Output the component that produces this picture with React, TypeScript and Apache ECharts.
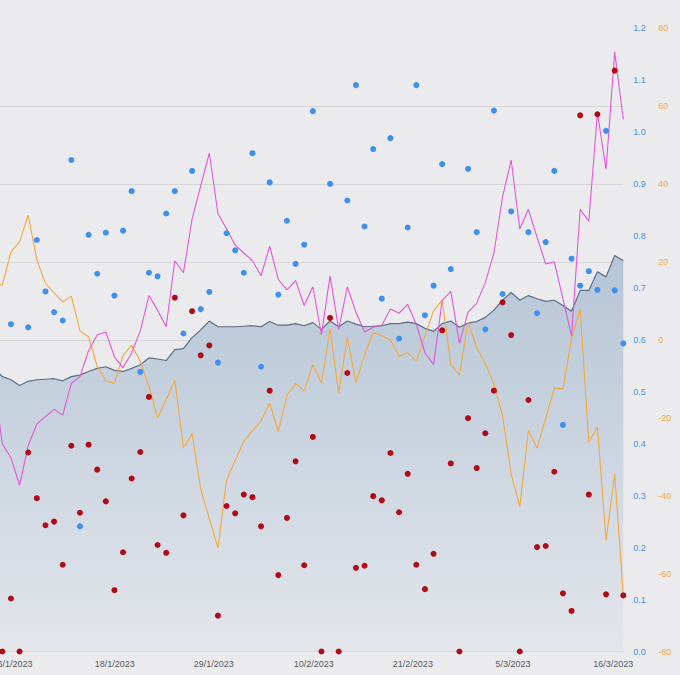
import React, { useEffect, useRef } from "react";
import * as echarts from "echarts";

// index -1 .. 72 (one point per day, first one just off the left edge)
const areaValues = [
  0.545, 0.529, 0.523, 0.512, 0.52, 0.523, 0.524, 0.525, 0.521, 0.529, 0.532,
  0.539, 0.545, 0.548, 0.541, 0.539, 0.545, 0.552, 0.565, 0.563, 0.56, 0.581,
  0.583, 0.604, 0.619, 0.636, 0.625, 0.625, 0.625, 0.626, 0.627, 0.625, 0.635,
  0.628, 0.628, 0.631, 0.627, 0.633, 0.62, 0.636, 0.625, 0.636, 0.63, 0.625,
  0.626, 0.627, 0.631, 0.631, 0.634, 0.631, 0.622, 0.616, 0.631, 0.636, 0.624,
  0.632, 0.635, 0.643, 0.657, 0.676, 0.691, 0.676, 0.685, 0.679, 0.674, 0.676,
  0.666, 0.655, 0.695, 0.695, 0.731, 0.721, 0.762, 0.752,
];

const orangeValues = [
  14.5, 14, 22.5, 25.2, 32, 20.5, 14.5, 12, 9.7, 11.2, 2.3, 0.7, -6.8, -10.6,
  -11.2, -4, -1.4, -5.5, -12, -20, -15.4, -10.4, -27.8, -24.1, -38.3, -45.9,
  -53.4, -36, -30.9, -26.1, -23.4, -20.8, -16.3, -23.6, -14.2, -11.2, -13.2,
  -6.4, -11.1, 2.8, -13.7, 0.6, -11, -3.8, 1.8, 1, 0, -4.3, -3.3, -5.5, 1, 7.4,
  10.2, -6.3, -9.1, 4.6, -2, -6.1, -11.4, -19.5, -34.5, -42.8, -23.3, -27.8,
  -20.2, -12.4, -12.6, 0.3, 7.9, -26.3, -22.4, -51.5, -34.5, -65.7,
];

const pinkValues = [
  0.52, 0.4, 0.373, 0.32, 0.396, 0.438, 0.452, 0.466, 0.455, 0.516, 0.529,
  0.579, 0.609, 0.615, 0.567, 0.546, 0.575, 0.617, 0.685, 0.657, 0.625, 0.752,
  0.729, 0.832, 0.896, 0.959, 0.843, 0.813, 0.782, 0.767, 0.752, 0.723, 0.78,
  0.716, 0.696, 0.714, 0.666, 0.702, 0.61, 0.723, 0.62, 0.702, 0.653, 0.615,
  0.624, 0.628, 0.659, 0.651, 0.668, 0.63, 0.575, 0.552, 0.676, 0.693, 0.593,
  0.653, 0.67, 0.71, 0.767, 0.875, 0.946, 0.813, 0.851, 0.797, 0.746, 0.75,
  0.679, 0.607, 0.851, 0.828, 1.037, 0.928, 1.154, 1.024,
];

const blueDots = [
  null, null, 0.63, null, 0.624, 0.792, 0.693, 0.653, 0.637, 0.946, 0.241,
  0.802, 0.727, 0.806, 0.685, 0.81, 0.886, 0.538, 0.729, 0.722, 0.843, 0.886,
  0.612, 0.925, 0.659, 0.692, 0.556, 0.805, 0.772, 0.729, 0.959, 0.548, 0.903,
  0.687, 0.829, 0.746, 0.783, 1.04, null, 0.9, null, 0.868, 1.09, 0.818, 0.967,
  0.679, 0.988, 0.602, 0.816, 1.09, 0.647, 0.704, 0.938, 0.736, null, 0.929,
  0.807, 0.62, 1.041, 0.688, 0.847, null, 0.807, 0.651, 0.788, 0.925, 0.436,
  0.756, 0.704, 0.732, 0.696, 1.002, 0.695, 0.593,
];

const redDots = [
  null, 0, 0.102, 0, 0.383, 0.295, 0.243, 0.25, 0.167, 0.396, 0.267, 0.398,
  0.35, 0.289, 0.118, 0.191, 0.333, 0.384, 0.49, 0.205, 0.19, 0.681, 0.262,
  0.655, 0.57, 0.589, 0.069, 0.28, 0.266, 0.302, 0.297, 0.241, 0.502, 0.147,
  0.257, 0.366, 0.166, 0.413, 0, 0.642, 0, 0.536, 0.161, 0.165, 0.299, 0.291,
  0.382, 0.268, 0.342, 0.167, 0.12, 0.188, 0.618, 0.362, 0, 0.449, 0.353, 0.42,
  0.502, 0.672, 0.609, 0, 0.484, 0.201, 0.203, 0.346, 0.112, 0.078, 1.032,
  0.302, 1.034, 0.11, 1.118, 0.108,
];

const xTickLabels = [
  "6/1/2023",
  "18/1/2023",
  "29/1/2023",
  "10/2/2023",
  "21/2/2023",
  "5/3/2023",
  "16/3/2023",
];
const xTickAt = [1.47, 13.03, 24.51, 36.1, 47.6, 59.2, 70.84];

const FIRST_INDEX = -1;

function pairs(values: (number | null)[]) {
  return values.map((v, i) => [i + FIRST_INDEX, v == null ? "-" : v]);
}

export default function App() {
  const ref = useRef<HTMLDivElement>(null);

  useEffect(() => {
    if (!ref.current) return;
    const chart = echarts.init(ref.current, null, { renderer: "svg" });
    const font = "Liberation Sans, Arial, Helvetica, sans-serif";
    chart.setOption({
      animation: false,
      backgroundColor: "#ebebee",
      textStyle: { fontFamily: font },
      grid: { left: 13.7, right: 56.7, top: 28, bottom: 23.5, containLabel: false },
      xAxis: {
        type: "value",
        min: -1,
        max: 72,
        axisLine: { show: true, lineStyle: { color: "#cfcfd3", width: 1 } },
        axisTick: { show: false },
        splitLine: { show: false },
        axisLabel: {
          customValues: xTickAt,
          color: "#5a5a5e",
          fontSize: 9,
          margin: 8,
          formatter: (v: number) => {
            let best = 0;
            for (let i = 0; i < xTickAt.length; i++) {
              if (Math.abs(xTickAt[i] - v) < Math.abs(xTickAt[best] - v)) best = i;
            }
            return xTickLabels[best];
          },
        },
      },
      yAxis: [
        {
          type: "value",
          position: "right",
          min: 0,
          max: 1.2,
          interval: 0.1,
          axisLine: { show: false },
          axisTick: { show: false },
          splitLine: { show: false },
          axisLabel: {
            color: "#4a93e6",
            fontSize: 9,
            margin: 10,
            formatter: (v: number) => v.toFixed(1),
          },
        },
        {
          type: "value",
          position: "right",
          offset: 25,
          min: -80,
          max: 80,
          interval: 20,
          axisLine: { show: false },
          axisTick: { show: false },
          splitLine: {
            show: true,
            showMaxLine: false,
            showMinLine: false,
            lineStyle: { color: "#d6d6da", width: 1 },
          },
          axisLabel: { color: "#f5a83a", fontSize: 9, margin: 10 },
        },
      ],
      series: [
        {
          type: "line",
          yAxisIndex: 0,
          data: pairs(areaValues),
          showSymbol: false,
          symbol: "none",
          lineStyle: { color: "#5a6e86", width: 1.2 },
          areaStyle: {
            color: new echarts.graphic.LinearGradient(0, 0, 0, 1, [
              { offset: 0, color: "#b5c5d6" },
              { offset: 1, color: "#e3e6eb" },
            ]),
            opacity: 1,
          },
          z: 1,
        },
        {
          type: "line",
          yAxisIndex: 1,
          data: pairs(orangeValues),
          showSymbol: false,
          symbol: "none",
          lineStyle: { color: "#f5a83a", width: 1.1 },
          z: 2,
        },
        {
          type: "line",
          yAxisIndex: 0,
          data: pairs(pinkValues),
          showSymbol: false,
          symbol: "none",
          lineStyle: { color: "#e257d8", width: 1.1 },
          z: 3,
        },
        {
          type: "scatter",
          yAxisIndex: 0,
          data: pairs(blueDots),
          symbolSize: 6,
          itemStyle: { color: "#3d8ff0", opacity: 1 },
          z: 4,
        },
        {
          type: "scatter",
          yAxisIndex: 0,
          data: pairs(redDots),
          symbolSize: 6,
          itemStyle: { color: "#b00a16", opacity: 1 },
          z: 5,
        },
      ],
    });
    return () => chart.dispose();
  }, []);

  return (
    <div
      ref={ref}
      style={{ position: "absolute", left: -20, top: 0, width: 700, height: 675 }}
    />
  );
}
